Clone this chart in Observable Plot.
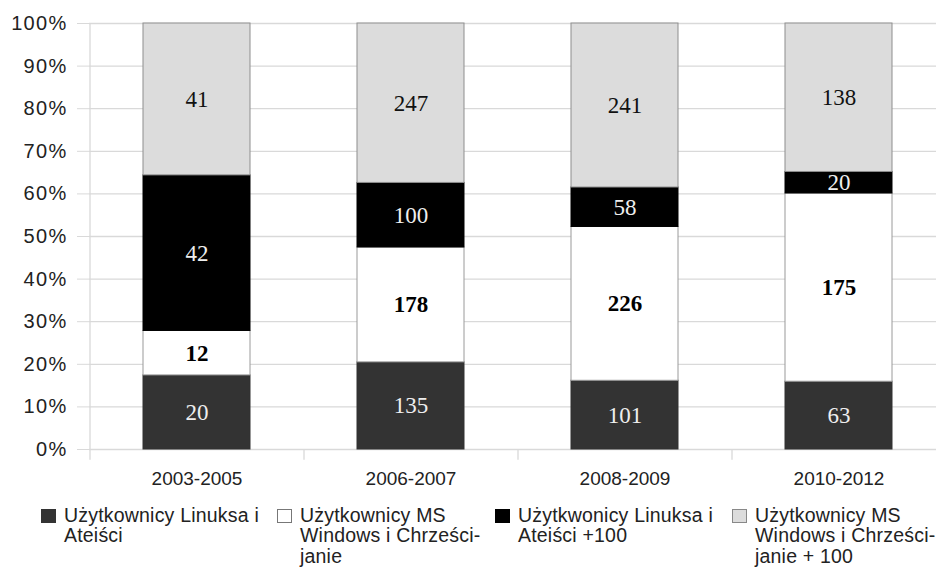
<!DOCTYPE html>
<html>
<head>
<meta charset="utf-8">
<script src="https://cdn.jsdelivr.net/npm/d3@7"></script>
<script src="https://cdn.jsdelivr.net/npm/@observablehq/plot@0.6"></script>
<style>
  html, body { margin: 0; padding: 0; background: #fff; overflow: hidden; }
  body { font-family: "Liberation Sans", Arial, sans-serif; width: 936px; }
  #legend { position: relative; height: 76px; color: #222; font-size: 19.5px; line-height: 20.3px; letter-spacing: 0.2px; }
  .item { position: absolute; top: 13px; display: flex; align-items: flex-start; }
  .item:nth-child(1) { left: 41px; }
  .item:nth-child(2) { left: 277px; }
  .item:nth-child(3) { left: 495px; }
  .item:nth-child(4) { left: 732px; }
  .sw { width: 15px; height: 14px; margin-top: 4px; margin-right: 8px; box-sizing: border-box; flex: none; }
  .txt { white-space: nowrap; }
  .yaxis-labels text { letter-spacing: 1.3px; }
</style>
</head>
<body>
<div id="chart"></div>
<div id="legend"></div>
<script>
const categories = ["2003-2005", "2006-2007", "2008-2009", "2010-2012"];
const seriesNames = [
  "Użytkownicy Linuksa i Ateiści",
  "Użytkownicy MS Windows i Chrześcijanie",
  "Użytkwonicy Linuksa i Ateiści +100",
  "Użytkownicy MS Windows i Chrześcijanie + 100"
];
const legendLines = [
  ["Użytkownicy Linuksa i", "Ateiści"],
  ["Użytkownicy MS", "Windows i Chrześci-", "janie"],
  ["Użytkwonicy Linuksa i", "Ateiści +100"],
  ["Użytkownicy MS", "Windows i Chrześci-", "janie + 100"]
];
const linuxValues = [20, 135, 101, 63];
const windowsValues = [12, 178, 226, 175];
const linuxPlusValues = [42, 100, 58, 20];
const windowsPlusValues = [41, 247, 241, 138];

const fills = ["#333333", "#ffffff", "#000000", "#dcdcdc"];
const strokes = ["#333333", "#9a9a9a", "#000000", "#8e8e8e"];
const labelColors = ["#eeeeee", "#000000", "#eeeeee", "#111111"];
const swatchBorders = ["#333333", "#777777", "#000000", "#888888"];

const allValues = [linuxValues, windowsValues, linuxPlusValues, windowsPlusValues];
const data = [];
allValues.forEach((vals, si) => {
  vals.forEach((v, ci) => data.push({category: categories[ci], series: seriesNames[si], si, value: v}));
});

const xRange = [89, 945];
const step = (xRange[1] - xRange[0]) / categories.length;
const yTicks = d3.range(0, 11).map(d => d / 10);

const stackOpts = {offset: "normalize", x: "category", y: "value", z: "series"};

const chart = Plot.plot({
  width: 936,
  height: 492,
  marginLeft: 89,
  marginRight: 0,
  marginTop: 23,
  marginBottom: 43,
  style: {fontFamily: "Liberation Sans, Arial, sans-serif", background: "white", overflow: "hidden"},
  x: {domain: categories, range: xRange, paddingInner: 0.5, paddingOuter: 0.25, label: null},
  y: {domain: [0, 1], label: null},
  color: {type: "identity"},
  marks: [
    Plot.gridY({ticks: yTicks, stroke: "#d9d9d9", strokeOpacity: 1, strokeWidth: 1.3}),
    Plot.axisY({
      ticks: yTicks,
      tickFormat: d3.format(".0%"),
      tickSize: 12, tickPadding: 10, fontSize: 20, label: null,
      stroke: "#d9d9d9", strokeOpacity: 1, fill: "#222",
      className: "yaxis-labels"
    }),
    Plot.ruleX(categories.slice(0, 1), {x: d => d, dx: -step / 2, y1: 1, y2: -0.025, stroke: "#d9d9d9", strokeWidth: 1.3}),
    Plot.ruleX(categories.slice(1), {x: d => d, dx: -step / 2, y1: 0, y2: -0.025, stroke: "#d9d9d9", strokeWidth: 1.3}),
    Plot.barY(data, Plot.stackY({...stackOpts, fill: d => fills[d.si], stroke: d => strokes[d.si], strokeWidth: 1})),
    Plot.text(data, Plot.stackY({...stackOpts,
      text: d => d.si === 1 ? null : String(d.value),
      fill: d => labelColors[d.si],
      fontFamily: "Liberation Serif, Times New Roman, serif", fontSize: 23})),
    Plot.text(data, Plot.stackY({...stackOpts,
      text: d => d.si === 1 ? String(d.value) : null,
      fill: d => labelColors[d.si],
      fontFamily: "Liberation Serif, Times New Roman, serif", fontSize: 23, fontWeight: "bold"})),
    Plot.axisX({tickSize: 0, tickPadding: 22, fontSize: 19, fill: "#222", label: null})
  ]
});

document.getElementById("chart").appendChild(chart);

const legend = document.getElementById("legend");
legendLines.forEach((lines, i) => {
  const item = document.createElement("div");
  item.className = "item";
  const sw = document.createElement("div");
  sw.className = "sw";
  sw.style.background = fills[i];
  sw.style.border = "1px solid " + swatchBorders[i];
  const txt = document.createElement("div");
  txt.className = "txt";
  txt.innerHTML = lines.map(l => l.replace(/&/g, "&amp;").replace(/</g, "&lt;")).join("<br>");
  item.appendChild(sw);
  item.appendChild(txt);
  legend.appendChild(item);
});
</script>
</body>
</html>
